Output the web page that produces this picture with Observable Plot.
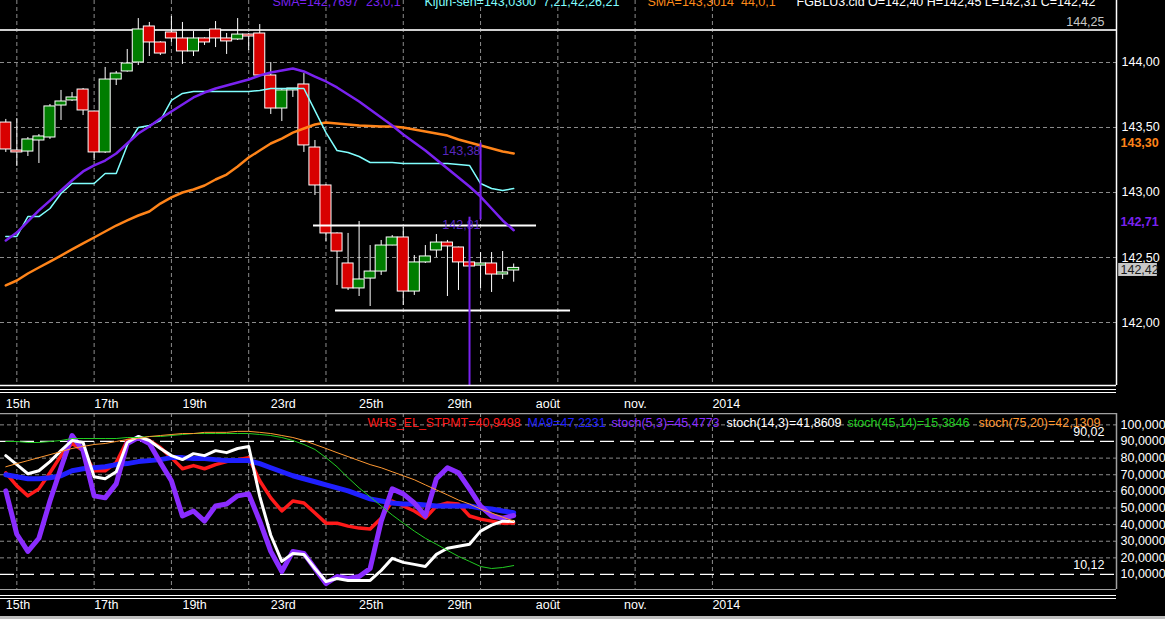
<!DOCTYPE html>
<html><head><meta charset="utf-8">
<script src="https://cdn.jsdelivr.net/npm/d3@7"></script>
<script src="https://cdn.jsdelivr.net/npm/@observablehq/plot@0.6"></script>
<style>
html,body{margin:0;padding:0;background:#000;width:1165px;height:619px;overflow:hidden;}
#wrap{position:relative;width:1165px;height:619px;background:#000;}
#upper{position:absolute;left:0;top:0;}
#lower{position:absolute;left:0;top:413px;}
#foot{position:absolute;left:0;top:616px;width:1165px;height:3px;background:#bdbdbd;}
</style></head><body>
<div id="wrap"><div id="upper"></div><div id="lower"></div><div id="foot"></div></div>
<script>
// ---------- DATA ----------
const opens  = [143.538,143.323,143.315,143.400,143.423,143.669,143.708,143.792,143.623,143.308,143.869,143.931,144.000,144.277,144.154,144.231,144.185,144.085,144.185,144.254,144.185,144.177,144.215,144.223,143.900,143.646,143.785,143.831,143.346,143.054,142.685,142.454,142.262,142.338,142.392,142.592,142.654,142.238,142.462,142.554,142.615,142.577,142.462,142.438,142.454,142.369,142.40];
const highs  = [143.562,143.569,143.423,143.446,143.677,143.785,143.769,143.800,143.625,143.962,143.931,144.100,144.338,144.308,144.160,144.354,144.308,144.238,144.190,144.315,144.223,144.338,144.223,144.292,144.000,143.800,143.800,143.915,143.400,143.060,142.690,142.685,142.777,142.592,142.631,142.669,142.731,142.515,142.592,142.677,142.631,142.580,142.492,142.538,142.538,142.546,142.45];
const lows   = [143.308,143.200,143.277,143.223,143.408,143.554,143.700,143.592,143.246,143.300,143.823,143.925,143.977,144.046,144.054,144.154,143.985,144.046,144.131,144.115,144.062,144.169,144.092,143.895,143.600,143.546,143.731,143.308,142.977,142.623,142.285,142.246,142.200,142.123,142.362,142.590,142.131,142.208,142.454,142.500,142.200,142.246,142.400,142.262,142.231,142.331,142.31];
const closes = [143.331,143.308,143.408,143.431,143.662,143.700,143.731,143.631,143.308,143.869,143.915,143.992,144.254,144.154,144.069,144.185,144.085,144.185,144.154,144.185,144.162,144.215,144.200,143.900,143.646,143.785,143.800,143.362,143.054,142.685,142.546,142.262,142.331,142.392,142.592,142.654,142.238,142.462,142.508,142.615,142.585,142.462,142.431,142.454,142.369,142.385,142.42];
const sma23  = [142.631,142.692,142.777,142.862,142.938,143.015,143.092,143.162,143.208,143.246,143.300,143.377,143.454,143.508,143.569,143.623,143.677,143.731,143.769,143.800,143.823,143.846,143.869,143.900,143.923,143.938,143.954,143.931,143.892,143.854,143.808,143.754,143.700,143.638,143.577,143.515,143.446,143.385,143.323,143.254,143.185,143.115,143.046,142.969,142.877,142.785,142.710];
const kijun  = [142.662,142.662,142.815,142.815,142.877,142.992,143.069,143.069,143.069,143.146,143.146,143.362,143.500,143.515,143.554,143.708,143.762,143.777,143.777,143.777,143.777,143.777,143.777,143.785,143.800,143.800,143.800,143.800,143.630,143.460,143.323,143.308,143.277,143.231,143.231,143.231,143.223,143.223,143.223,143.223,143.223,143.215,143.208,143.069,143.031,143.015,143.030];
const sma44  = [142.285,142.323,142.377,142.423,142.469,142.515,142.562,142.608,142.654,142.700,142.746,142.785,142.823,142.854,142.915,142.962,143.000,143.023,143.054,143.100,143.138,143.200,143.269,143.323,143.377,143.415,143.460,143.492,143.523,143.538,143.531,143.523,143.515,143.512,143.508,143.508,143.500,143.485,143.469,143.454,143.438,143.408,143.385,143.362,143.338,143.315,143.300];

const whs     = [71.2,63.3,57.3,61.5,71.2,81.5,88.8,84.5,72.4,72.4,77.3,90.6,91.8,90.6,86.4,80.3,73.6,75.5,73.6,76.1,77.9,79.1,80.3,66.4,56.1,48.2,54.2,53.0,47.0,40.9,40.9,39.1,37.9,37.3,43.9,54.2,51.2,48.2,43.9,51.2,53.0,52.4,45.2,43.3,42.1,40.9,40.95];
const ma9     = [70.0,68.8,67.6,67.6,68.2,69.4,72.4,73.6,74.2,74.8,76.1,76.7,77.9,78.5,79.1,80.3,80.3,79.7,79.7,79.1,78.5,78.5,78.5,76.7,74.2,71.8,69.4,67.6,65.8,63.9,62.1,60.3,57.9,55.5,54.2,53.0,52.4,52.4,51.8,51.2,51.2,51.2,51.2,50.0,49.4,48.2,47.22];
const stoch5  = [60.3,34.2,23.9,31.8,54.2,74.2,93.6,84.5,57.3,56.1,64.5,88.8,92.4,88.8,77.3,66.4,45.2,48.2,42.1,51.2,52.4,57.3,58.5,42.1,23.9,11.8,23.9,22.7,13.6,4.5,8.8,7.6,8.8,13.6,42.1,61.5,58.5,53.0,45.2,67.6,74.2,71.2,61.5,51.2,45.2,43.9,45.48];
const stoch14 = [81.5,76.1,70.6,72.4,77.9,84.5,90.6,89.4,68.8,67.6,71.8,89.4,93.0,90.6,85.8,81.5,79.1,82.7,81.5,84.5,83.3,85.8,87.0,57.0,33.6,17.9,22.7,22.1,13.6,5.8,7.6,6.4,6.4,6.4,12.4,19.7,17.3,16.1,14.8,22.1,25.8,27.0,28.2,36.1,39.7,42.1,41.86];
const stoch45 = [90.0,90.0,89.4,89.4,90.0,90.6,91.8,91.8,91.8,91.8,91.8,92.4,92.4,93.0,93.0,93.6,94.2,94.8,94.8,94.8,94.8,94.8,94.8,94.2,93.6,92.4,90.6,88.2,85.2,80.3,74.8,68.2,62.1,56.7,51.2,45.8,40.9,36.1,31.8,28.2,24.5,20.9,17.9,14.8,13.6,14.2,15.38];
const stoch75 = [74.8,76.7,78.5,80.3,82.1,83.9,85.8,87.0,88.2,88.8,90.0,91.2,91.8,93.0,93.6,94.2,94.8,94.8,95.5,95.5,95.5,96.1,96.1,95.5,94.8,93.6,92.4,90.6,88.2,85.8,83.3,80.9,78.5,76.1,74.2,71.8,69.4,67.0,63.9,60.9,57.9,54.8,52.4,49.4,47.0,44.5,42.13];

const xLabels     = ["15th","17th","19th","23rd","25th","29th","août","nov.","2014"];
const xLabelTicks = [0,8,16,24,32,40,48,56,64];
const xGridTicks  = [1,8,15,22,29,36,43,50,57,64];
const priceTicks  = [142,142.5,143,143.5,144];
const oscTicks    = [10,20,30,40,50,60,70,80,90,100];
const oscGrid     = [20,30,40,50,60,70,80,100];
const oscLevels   = [90.02,10.12];
const topLevel    = 144.25;
const resistance  = {value:142.746, from:27.87, to:48.07};
const support     = {value:142.092, from:29.86, to:51.15};
const markers     = [{i:43, from:143.38, to:142.79, label:"143,38"},{i:42, from:142.81, to:null, label:"142,81"}];

const topLegend = [
  {text:"SMA=142,7697  23,0,1", color:"#7a22f0"},
  {text:"Kijun-sen=143,0300  7,21,42,26,21", color:"#80ffff"},
  {text:"SMA=143,3014  44,0,1", color:"#ff8c1a"},
  {text:"FGBLU3.cld O=142,40 H=142,45 L=142,31 C=142,42", color:"#ffffff"}
];
const lowLegend = [
  {text:"WHS_EL_STPMT=40,9498", color:"#ff1a1a"},
  {text:"MA9=47,2231", color:"#2020ff"},
  {text:"stoch(5,3)=45,4773", color:"#8a2cff"},
  {text:"stoch(14,3)=41,8609", color:"#ffffff"},
  {text:"stoch(45,14)=15,3846", color:"#22cc22"},
  {text:"stoch(75,20)=42,1309", color:"#ff9933"}
];

// ---------- LAYOUT ----------
const FONT = "'Liberation Sans', Arial, sans-serif";
const topLegendDx = [272, 424, 647, 796];
const lowLegendDx = [367, 527, 611, 726, 847, 978];
const xDomain = [-0.48, 100.6];
const yUpper = [141.5154, 144.4769];
const yLower = [0.977, 106.84];
const fmt2 = d => d.toFixed(2).replace(".", ",");
const fmt4 = d => d.toFixed(4).replace(".", ",").slice(0, 7);
const labelMap = new Map(xLabelTicks.map((t, k) => [t, xLabels[k]]));

const candles = opens.map((o, i) => ({
  i, open: o, high: highs[i], low: lows[i], close: closes[i],
  sma23: sma23[i], kijun: kijun[i], sma44: sma44[i]
}));
const osc = whs.map((v, i) => ({
  i, whs: v, ma9: ma9[i], s5: stoch5[i], s14: stoch14[i], s45: stoch45[i], s75: stoch75[i]
}));
const last = candles[candles.length - 1];

const upper = Plot.plot({
  width: 1165, height: 413,
  marginTop: 0, marginBottom: 28, marginLeft: 0, marginRight: 49,
  style: {background: "#000", color: "#fff", fontFamily: FONT, fontSize: "12px", overflow: "hidden"},
  x: {domain: xDomain, axis: null, label: null},
  y: {domain: yUpper, axis: null, label: null},
  marks: [
    Plot.gridX(xGridTicks, {stroke: "#8c8c8c", strokeOpacity: 1, strokeDasharray: "4,3"}),
    Plot.gridY(priceTicks, {stroke: "#8c8c8c", strokeOpacity: 1, strokeDasharray: "4,3"}),
    Plot.ruleY([topLevel], {stroke: "#cfcfcf", strokeWidth: 2}),
    Plot.text([topLevel], {y: d => d, text: d => fmt2(d), frameAnchor: "right", dx: -12, dy: -8, textAnchor: "end", lineAnchor: "middle", fill: "#c8c8c8", fontSize: 12.5}),
    // candles
    Plot.ruleX(candles, {x: "i", y1: "low", y2: "high", stroke: "#fff", strokeWidth: 1}),
    Plot.rect(candles, {x1: d => d.i - 0.5, x2: d => d.i + 0.5, y1: "open", y2: "close",
      fill: d => d.close >= d.open ? "#007d00" : "#d80000", stroke: "#fff", strokeWidth: 1}),
    // support / resistance
    Plot.ruleY([resistance, support], {y: "value", x1: "from", x2: "to", stroke: "#fff", strokeWidth: 2}),
    // indicators
    Plot.line(candles, {x: "i", y: "sma44", stroke: "#ff8419", strokeWidth: 2.5}),
    Plot.line(candles, {x: "i", y: "kijun", stroke: "#80ffff", strokeWidth: 1.5}),
    Plot.line(candles, {x: "i", y: "sma23", stroke: "#7a22f0", strokeWidth: 2.5}),
    // purple markers
    Plot.text(markers, {x: 43, y: "from", text: "label", textAnchor: "end", lineAnchor: "top", dy: 3, fill: "#6a2fe0", fillOpacity: 0.85, fontSize: 12.5}),
    Plot.ruleX(markers, {x: "i", y1: "from", y2: d => d.to ?? yUpper[0], stroke: "#7a22f0", strokeWidth: 2}),
    // frame
    Plot.ruleX([xDomain[1]], {stroke: "#fff", strokeWidth: 1.5}),
    Plot.ruleY([yUpper[0]], {stroke: "#fff", strokeWidth: 1.5}),
    Plot.ruleY([141.4846, 141.4615], {x1: xDomain[0], x2: xDomain[1], stroke: "#fff", strokeWidth: 1.2}),
    // axes
    Plot.axisY(priceTicks, {anchor: "right", label: null, tickSize: 0, tickPadding: 5, tickFormat: fmt2, textAnchor: "start", fill: "#fff", fontSize: 12.5}),
    Plot.axisX(xLabelTicks, {anchor: "bottom", label: null, tickSize: 0, tickPadding: 14, tickFormat: d => labelMap.get(d), textAnchor: "start", fill: "#fff", fontSize: 12.5}),
    // right value tags
    Plot.rect([last.close], {x1: 100.8, x2: 104.3, y1: d => d - 0.066, y2: d => d + 0.034, fill: "#c8c8c8"}),
    Plot.text([last.close], {y: d => d, text: d => fmt2(d), frameAnchor: "right", dx: 4, dy: 2, textAnchor: "start", lineAnchor: "middle", fill: "#1a1a1a", fontSize: 12.5}),
    Plot.text([last.sma44], {y: d => d, text: d => fmt2(d), frameAnchor: "right", dx: 4, dy: -10, textAnchor: "start", lineAnchor: "middle", fill: "#ff8419", fontWeight: "bold", fontSize: 12.5}),
    Plot.text([last.sma23], {y: d => d, text: d => fmt2(d), frameAnchor: "right", dx: 4, dy: -8, textAnchor: "start", lineAnchor: "middle", fill: "#7a22f0", fontWeight: "bold", fontSize: 12.5}),
    // legend
    ...topLegend.map((d, k) => Plot.text([d], {frameAnchor: "top-left", dx: topLegendDx[k], dy: 1.5, text: "text", fill: "color", textAnchor: "start", lineAnchor: "middle", fontSize: 12.5}))
  ]
});
document.getElementById("upper").appendChild(upper);

const lower = Plot.plot({
  width: 1165, height: 206,
  marginTop: 0, marginBottom: 30, marginLeft: 0, marginRight: 49,
  style: {background: "#000", color: "#fff", fontFamily: FONT, fontSize: "12px", overflow: "hidden"},
  x: {domain: xDomain, axis: null, label: null},
  y: {domain: yLower, axis: null, label: null},
  marks: [
    Plot.gridX(xGridTicks, {stroke: "#8c8c8c", strokeOpacity: 1, strokeDasharray: "4,3"}),
    Plot.gridY(oscGrid, {stroke: "#8c8c8c", strokeOpacity: 1, strokeDasharray: "4,3"}),
    Plot.ruleY(oscLevels, {stroke: "#fff", strokeWidth: 1.2, strokeDasharray: "14,6"}),
    Plot.text(oscLevels, {y: d => d, text: d => fmt2(d), frameAnchor: "right", dx: -12, dy: -9, textAnchor: "end", lineAnchor: "middle", fill: "#fff", fontSize: 12.5}),
    Plot.line(osc, {x: "i", y: "whs", stroke: "#ff1a1a", strokeWidth: 3.5}),
    Plot.line(osc, {x: "i", y: "ma9", stroke: "#2020ff", strokeWidth: 5}),
    Plot.line(osc, {x: "i", y: "s5", stroke: "#8a2cff", strokeWidth: 5}),
    Plot.line(osc, {x: "i", y: "s14", stroke: "#ffffff", strokeWidth: 3}),
    Plot.line(osc, {x: "i", y: "s45", stroke: "#22cc22", strokeWidth: 1}),
    Plot.line(osc, {x: "i", y: "s75", stroke: "#ff9933", strokeWidth: 1}),
    // frame
    Plot.ruleY([yLower[1]], {stroke: "#a0a0a0", strokeWidth: 1.5}),
    Plot.ruleY([yLower[0]], {stroke: "#a0a0a0", strokeWidth: 1.2}),
    Plot.ruleX([xDomain[1]], {stroke: "#a0a0a0", strokeWidth: 1.5}),
    Plot.ruleY([-2.63, -4.44], {x1: xDomain[0], x2: xDomain[1], stroke: "#fff", strokeWidth: 1.2}),
    Plot.axisY(oscTicks, {anchor: "right", label: null, tickSize: 0, tickPadding: 4, tickFormat: fmt4, textAnchor: "start", fill: "#fff", fontSize: 12.5}),
    Plot.axisX(xLabelTicks, {anchor: "bottom", label: null, tickSize: 0, tickPadding: 11, tickFormat: d => labelMap.get(d), textAnchor: "start", fill: "#fff", fontSize: 12.5}),
    ...lowLegend.map((d, k) => Plot.text([d], {frameAnchor: "top-left", dx: lowLegendDx[k], dy: 9, text: "text", fill: "color", textAnchor: "start", lineAnchor: "middle", fontSize: 12.5}))
  ]
});
document.getElementById("lower").appendChild(lower);
</script>
</body></html>
